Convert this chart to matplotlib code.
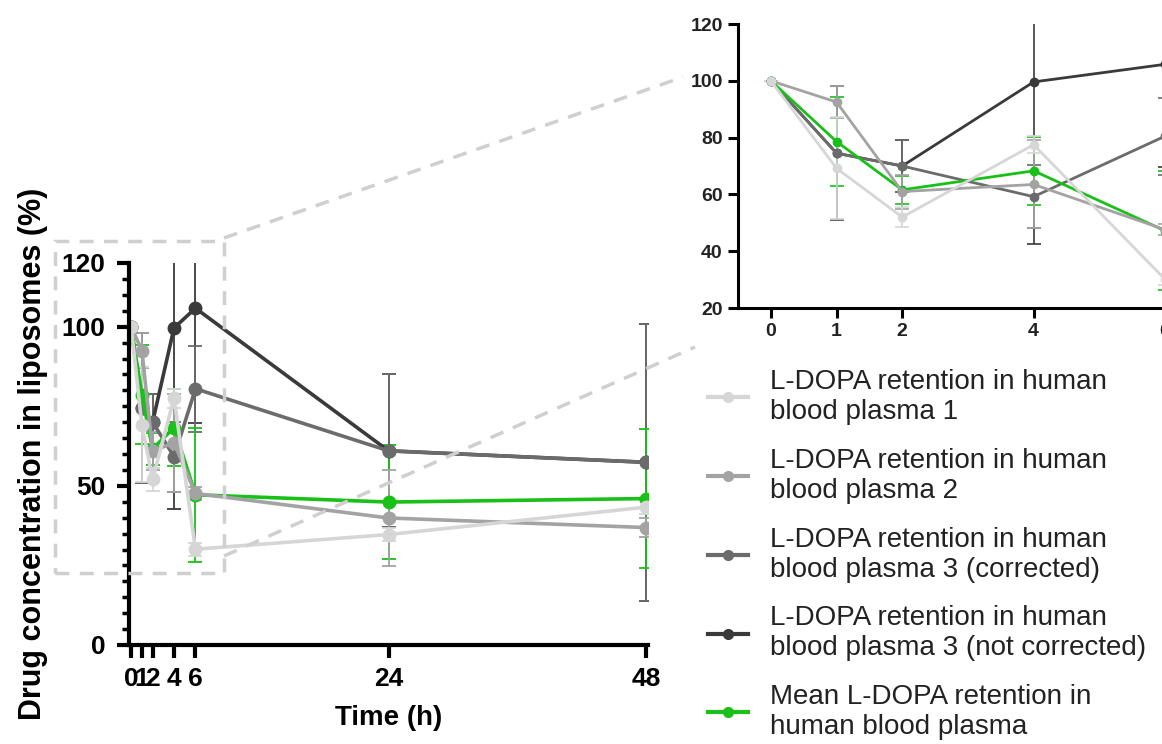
import numpy as np
import matplotlib
matplotlib.use("Agg")
import matplotlib.pyplot as plt
from matplotlib.lines import Line2D
from matplotlib.patches import Rectangle

plt.rcParams['font.family'] = ['Liberation Sans', 'DejaVu Sans']

# data
time_h = [0, 1, 2, 4, 6, 24, 48]

plasma1 = [100, 69.2, 52.0, 77.5, 30.1, 34.7, 43.3]
plasma1_sd = [0, 18.0, 3.5, 3.0, 2.0, 2.0, 2.0]

plasma2 = [100, 92.5, 61.0, 63.5, 47.6, 39.9, 36.9]
plasma2_sd = [0, 5.5, 6.0, 15.5, 2.0, 15.0, 3.0]

plasma3_corr = [100, 74.5, 70.0, 59.2, 80.5, 61.0, 57.4]
plasma3_corr_sd = [0, 23.5, 9.0, 11.0, 13.5, 24.0, 43.5]

plasma3_raw = [100, 74.5, 70.0, 99.6, 105.8, 61.0, 57.4]
plasma3_raw_sd = [0, 23.5, 9.0, 57.0, 36.0, 24.0, 43.5]

mean_ret = [100, 78.6, 61.6, 68.3, 47.2, 44.9, 46.0]
mean_sd = [0, 15.6, 5.0, 12.0, 21.0, 17.8, 21.7]

labels = ['L-DOPA retention in human\nblood plasma 1',
          'L-DOPA retention in human\nblood plasma 2',
          'L-DOPA retention in human\nblood plasma 3 (corrected)',
          'L-DOPA retention in human\nblood plasma 3 (not corrected)',
          'Mean L-DOPA retention in\nhuman blood plasma']
colors = ['#d6d6d6', '#a3a3a3', '#6b6b6b', '#3a3a3a', '#18c018']

W, H = 1162, 744


def fig_box(x0, y_top, x1, y_bot):
    # pixel box -> figure fraction [left, bottom, width, height]
    return [x0 / W, 1 - y_bot / H, (x1 - x0) / W, (y_bot - y_top) / H]


def px(x, y):
    return x / W, 1 - y / H


fig = plt.figure(figsize=(W / 100, H / 100), dpi=100)

series = [(plasma3_raw, plasma3_raw_sd, 3),
          (plasma3_corr, plasma3_corr_sd, 2),
          (mean_ret, mean_sd, 4),
          (plasma2, plasma2_sd, 1),
          (plasma1, plasma1_sd, 0)]

# main chart
ax = fig.add_axes(fig_box(129, 263, 648, 645))
for vals, sd, ci in series:
    ax.errorbar(time_h, vals, yerr=sd, color=colors[ci], lw=2.6, marker='o', ms=9,
                elinewidth=1.3, capsize=5, capthick=1.3)
ax.set_xlim(-0.2, 48.2)
ax.set_ylim(0, 120)
ax.set_xticks(time_h)
ax.set_xticklabels([str(t) for t in time_h])
ax.set_yticks([0, 50, 100, 120])
ax.set_yticks(np.arange(0, 121, 5), minor=True)
for s in ['top', 'right']:
    ax.spines[s].set_visible(False)
for s in ['left', 'bottom']:
    ax.spines[s].set_linewidth(3)
ax.tick_params(axis='both', which='major', length=9, width=3, labelsize=19)
ax.tick_params(axis='y', which='major', pad=8)
ax.tick_params(axis='x', which='major', pad=7)
ax.tick_params(axis='y', which='minor', length=5, width=2.5)
for t in ax.get_xticklabels() + ax.get_yticklabels():
    t.set_fontweight('bold')
ax.set_xlabel('Time (h)', fontsize=20, fontweight='bold', labelpad=10)
ax.set_ylabel('Drug concentration in liposomes (%)', fontsize=22, fontweight='bold', labelpad=10)

# zoomed inset (0-6 h)
axi = fig.add_axes(fig_box(738, 24, 1165, 308))
for vals, sd, ci in series:
    axi.errorbar(time_h, vals, yerr=sd, color=colors[ci], lw=2.0, marker='o', ms=6,
                 elinewidth=1.2, capsize=5, capthick=1.2)
axi.set_xlim(-0.5, 6.0)
axi.set_ylim(20, 120)
axi.set_xticks([0, 1, 2, 4, 6])
axi.set_yticks(np.arange(20, 121, 20))
for s in ['top', 'right']:
    axi.spines[s].set_visible(False)
for s in ['left', 'bottom']:
    axi.spines[s].set_linewidth(2.2)
axi.tick_params(axis='both', length=7, width=2.2, labelsize=14, pad=4, labelcolor='#222222')
for t in axi.get_xticklabels() + axi.get_yticklabels():
    t.set_fontweight('bold')

# zoom indicator
dash_kw = dict(color='#cfcfcf', lw=2.5, ls=(0, (4, 3)), transform=fig.transFigure)
x0, y0 = px(55, 241)
x1, y1 = px(224, 573)
fig.add_artist(Rectangle((x0, y1), x1 - x0, y0 - y1, fill=False, edgecolor='#cfcfcf',
                         lw=2.5, ls=(0, (4, 3)), transform=fig.transFigure))
a, b = px(224, 238)
c, d = px(683, 77)
fig.add_artist(Line2D([a, c], [b, d], **dash_kw))
a, b = px(224, 556)
c, d = px(695, 347)
fig.add_artist(Line2D([a, c], [b, d], **dash_kw))

# legend
handles = [Line2D([], [], color=col, lw=3, marker='o', ms=7) for col in colors]
fig.legend(handles, labels, loc='upper left', bbox_to_anchor=px(708, 369),
           frameon=False, fontsize=20, handlelength=1.45, handletextpad=0.8,
           labelspacing=0.82, borderpad=0, borderaxespad=0, labelcolor='#222222')

fig.savefig('out.png', dpi=100)
